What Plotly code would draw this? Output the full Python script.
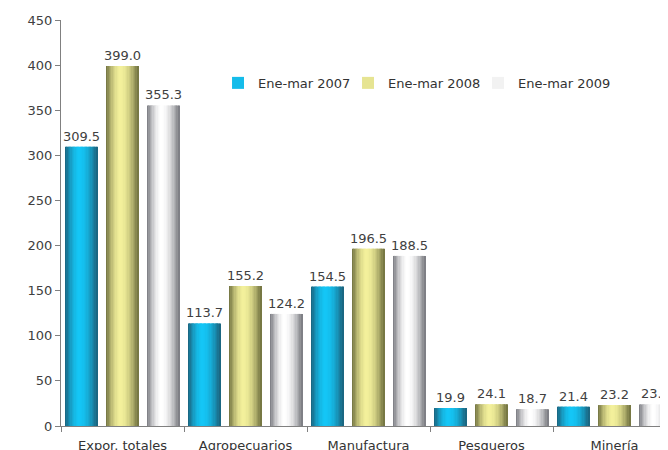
import plotly.graph_objects as go

categories = ["Expor. totales", "Agropecuarios", "Manufactura", "Pesqueros", "Minería"]
series_names = ["Ene-mar 2007", "Ene-mar 2008", "Ene-mar 2009"]
vals_2007 = [309.5, 113.7, 154.5, 19.9, 21.4]
vals_2008 = [399.0, 155.2, 196.5, 24.1, 23.2]
vals_2009 = [355.3, 124.2, 188.5, 18.7, 23.9]
all_vals = [vals_2007, vals_2008, vals_2009]

# edge colour / bright colour of each cylinder-style bar
edge_cols = [(27, 96, 122), (110, 111, 62), (118, 119, 125)]
mid_cols = [(20, 198, 246), (243, 240, 155), (255, 255, 255)]

FONT = "DejaVu Sans"
N = 24            # slices per bar to fake the horizontal gradient
bar_w = 32 / 123  # bar width in category units
gap = 9 / 123
start = -0.5 + 4.5 / 123


def shade(t, edge, mid):
    # t in [0,1] across the bar; brightest a bit left of centre
    peak = 0.45
    d = abs(t - peak) / (peak if t < peak else 1 - peak)
    k = max(0.0, 1 - d ** 1.8)
    c = [round(e + (m - e) * k) for e, m in zip(edge, mid)]
    return "rgb(%d,%d,%d)" % tuple(c)


fig = go.Figure()
for s, vals in enumerate(all_vals):
    left = start + s * (bar_w + gap)
    sw = bar_w / N
    for j in range(N):
        t = (j + 0.5) / N
        fig.add_trace(go.Bar(
            x=categories, y=vals,
            offset=left + j * sw, width=sw * 1.4 if j < N - 1 else sw,
            marker=dict(color=shade(t, edge_cols[s], mid_cols[s]), line=dict(width=0)),
            showlegend=False, hoverinfo="skip"))
    # value labels
    fig.add_trace(go.Bar(
        x=categories, y=vals, offset=left, width=bar_w,
        marker=dict(color="rgba(0,0,0,0)", line=dict(width=0)),
        text=["%.1f" % v for v in vals], textposition="outside",
        constraintext="none", cliponaxis=False,
        textfont=dict(family=FONT, size=13, color="#404040"),
        showlegend=False, hoverinfo="skip"))
    # legend entry
    fig.add_trace(go.Bar(
        x=[None], y=[None], name=series_names[s],
        marker=dict(color=shade(0.6, edge_cols[s], mid_cols[s]), line=dict(width=0))))

# empty legend slot so the last legend text is not clipped
fig.add_trace(go.Bar(x=[None], y=[None], name=" ",
                     marker=dict(color="rgba(0,0,0,0)", line=dict(width=0))))

# page body has an 8px margin, so the figure is 8px smaller than the window
fig.update_layout(
    width=660, height=442,
    margin=dict(l=53, r=0, t=12, b=24, autoexpand=False),
    paper_bgcolor="white", plot_bgcolor="white",
    barmode="overlay",
    font=dict(family=FONT, size=13, color="#404040"),
    legend=dict(orientation="h", x=0.2587, y=0.845, xanchor="left", yanchor="middle",
                font=dict(family=FONT, size=13, color="#333333"),
                itemwidth=30, entrywidth=85, entrywidthmode="pixels",
                itemclick=False, itemdoubleclick=False,
                bgcolor="rgba(0,0,0,0)"),
    xaxis=dict(range=[-0.5, 4.435], showline=True, linecolor="#808080", linewidth=1,
               ticks="outside", tickson="boundaries", ticklen=5, tickcolor="#808080",
               ticklabelstandoff=7,
               showgrid=False, zeroline=False, automargin=False,
               tickfont=dict(family=FONT, size=13, color="#333333")),
    yaxis=dict(range=[0, 450], dtick=50, showline=True, linecolor="#808080", linewidth=1,
               ticks="outside", ticklen=5, tickcolor="#808080", showgrid=False, zeroline=False,
               automargin=False, tickfont=dict(family=FONT, size=13, color="#404040")),
)

fig.write_html("out.html")
